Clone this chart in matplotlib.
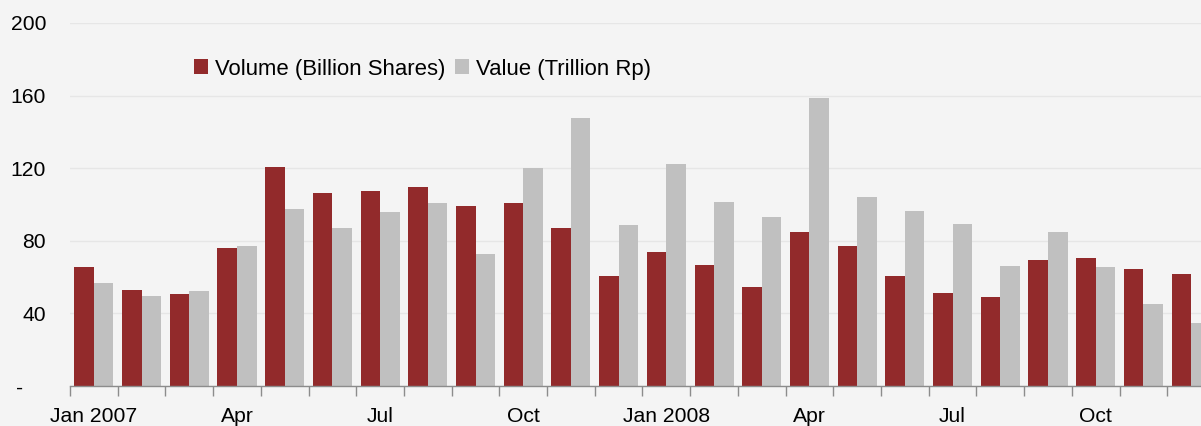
import matplotlib
matplotlib.use("Agg")
import matplotlib.pyplot as plt
import matplotlib.transforms as mtransforms
import numpy as np

months = ["Jan 2007", "Feb", "Mar", "Apr", "May", "Jun", "Jul", "Aug", "Sep", "Oct", "Nov", "Dec",
          "Jan 2008", "Feb", "Mar", "Apr", "May", "Jun", "Jul", "Aug", "Sep", "Oct", "Nov", "Dec"]
volume = [65.6, 52.9, 50.7, 76.0, 120.7, 106.3, 107.4, 109.6, 99.2, 100.8, 87.0, 60.6,
          73.8, 66.7, 54.5, 84.8, 77.1, 60.6, 51.2, 49.0, 69.4, 70.5, 64.5, 61.7]
value = [56.7, 49.6, 52.3, 77.1, 97.5, 87.0, 95.9, 100.8, 72.7, 120.1, 147.7, 88.7,
         122.3, 101.4, 93.1, 158.7, 104.1, 96.4, 89.3, 66.1, 84.8, 65.6, 45.2, 34.7]
label_idx = [0, 3, 6, 9, 12, 15, 18, 21]
y_ticks = [0, 40, 80, 120, 160, 200]
y_labels = ["-", "40", "80", "120", "160", "200"]

RED = "#922a2b"
GRAY = "#c0c0c0"
BG = "#f4f4f4"

plt.rcParams['font.family'] = ['Liberation Sans', 'DejaVu Sans']

W, H = 1201, 426
PT = 72 / 100  # points per pixel
fig = plt.figure(figsize=(W / 100, H / 100), dpi=100, facecolor=BG)
ax = fig.add_axes([70 / W, (H - 386) / H, 1145 / W, (386 - 23) / H])
ax.set_facecolor(BG)

x = np.arange(len(months))
w = 0.41
ax.bar(x - w, volume, width=w, align='edge', color=RED, label="Volume (Billion Shares)", zorder=3)
ax.bar(x, value, width=w, align='edge', color=GRAY, label="Value (Trillion Rp)", zorder=3)

ax.set_xlim(-0.5, len(months) - 0.5)
ax.set_ylim(0, 200)
ax.set_yticks(y_ticks)
ax.set_yticklabels(y_labels)
ax.yaxis.grid(True, color="#e6e6e6", linewidth=1, zorder=0)
ax.set_axisbelow(True)

ax.set_xticks([x[i] for i in label_idx])
ax.set_xticklabels([months[i] for i in label_idx])
ax.set_xticks(np.arange(-0.5, len(months), 1.0), minor=True)
ax.tick_params(axis='x', which='major', length=0, pad=21 * PT, labelsize=15.2, labelcolor="#000000")
ax.tick_params(axis='x', which='minor', length=7, width=1, color="#8c8c8c", direction='out')
ax.tick_params(axis='y', length=0, pad=24 * PT, labelsize=15.2, labelcolor="#000000")

for s in ['left', 'right', 'top']:
    ax.spines[s].set_visible(False)
ax.spines['bottom'].set_color("#8c8c8c")
ax.spines['bottom'].set_linewidth(1)
ax.spines['bottom'].set_zorder(4)

# shift the "-" label to the left like the accounting format
lbl = ax.yaxis.get_major_ticks()[0].label1
lbl.set_transform(lbl.get_transform() + mtransforms.ScaledTranslation(-23 / 100, 0, fig.dpi_scale_trans))

fig.legend(loc='center left', bbox_to_anchor=(194 / W, 1 - 69 / H), ncol=2, frameon=False,
           fontsize=15.9, handlelength=0.634, handleheight=0.634, handletextpad=0.32,
           columnspacing=0.45, borderpad=0, borderaxespad=0)

fig.savefig("out.png", dpi=100, facecolor=BG)
